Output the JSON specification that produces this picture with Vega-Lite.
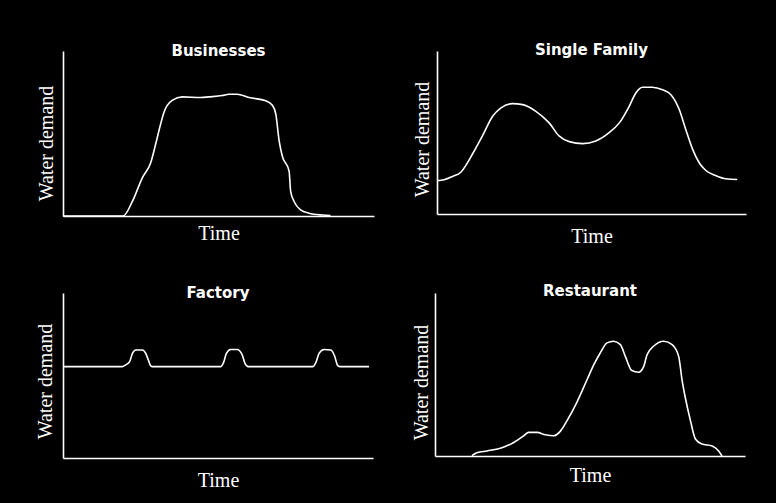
{
  "$schema": "https://vega.github.io/schema/vega-lite/v6.json",
  "background": "black",
  "padding": {"left": 35, "top": 42, "right": 40, "bottom": 30},
  "datasets": {
    "businesses": [
      {"t": 0, "demand": 0}, {"t": 19.3, "demand": 0}, {"t": 22.3, "demand": 8.8}, {"t": 25.5, "demand": 23.1},
      {"t": 28.2, "demand": 32.3}, {"t": 29.8, "demand": 43.6}, {"t": 31.4, "demand": 55.8}, {"t": 32.5, "demand": 63.0},
      {"t": 35.1, "demand": 70.1}, {"t": 38.4, "demand": 72.2}, {"t": 44.3, "demand": 71.8}, {"t": 46.9, "demand": 72.2},
      {"t": 51.2, "demand": 73.0}, {"t": 53.4, "demand": 73.8}, {"t": 56.0, "demand": 73.8}, {"t": 59.8, "demand": 71.8},
      {"t": 65.2, "demand": 69.8}, {"t": 67.3, "demand": 67.1}, {"t": 68.4, "demand": 62.0}, {"t": 69.5, "demand": 45.6},
      {"t": 70.5, "demand": 36.4}, {"t": 72.7, "demand": 27.2}, {"t": 73.2, "demand": 14.9}, {"t": 74.3, "demand": 8.8},
      {"t": 76.4, "demand": 3.7}, {"t": 79.1, "demand": 1.7}, {"t": 83.4, "demand": 0.6}, {"t": 86, "demand": 0.3}
    ],
    "single_family": [
      {"t": 0, "demand": 20.4}, {"t": 2.3, "demand": 21.0}, {"t": 5.0, "demand": 23.0}, {"t": 7.7, "demand": 25.6},
      {"t": 9.3, "demand": 29.7}, {"t": 11.5, "demand": 36.8}, {"t": 14.7, "demand": 47.9}, {"t": 18.0, "demand": 60.0},
      {"t": 20.6, "demand": 65.0}, {"t": 24.4, "demand": 67.7}, {"t": 27.7, "demand": 67.1}, {"t": 32.0, "demand": 63.0},
      {"t": 36.3, "demand": 55.9}, {"t": 39.5, "demand": 47.9}, {"t": 42.8, "demand": 44.4}, {"t": 47.1, "demand": 43.2},
      {"t": 51.4, "demand": 44.8}, {"t": 55.7, "demand": 49.9}, {"t": 59.0, "demand": 55.9}, {"t": 62.2, "demand": 66.1},
      {"t": 64.3, "demand": 74.1}, {"t": 66.5, "demand": 77.8}, {"t": 69.7, "demand": 77.8}, {"t": 73.0, "demand": 76.2},
      {"t": 75.7, "demand": 73.2}, {"t": 78.4, "demand": 64.1}, {"t": 80.5, "demand": 51.9}, {"t": 82.7, "demand": 39.8},
      {"t": 84.9, "demand": 31.3}, {"t": 87.0, "demand": 26.7}, {"t": 90.2, "demand": 23.6}, {"t": 93.5, "demand": 21.6},
      {"t": 97.2, "demand": 21.2}
    ],
    "factory": [
      {"t": 0, "demand": 55.4}, {"t": 19.1, "demand": 55.4}, {"t": 20.2, "demand": 56.4}, {"t": 21.5, "demand": 58.4},
      {"t": 22.4, "demand": 63.4}, {"t": 23.5, "demand": 65.5}, {"t": 25.6, "demand": 65.5}, {"t": 26.7, "demand": 63.4},
      {"t": 27.5, "demand": 59.5}, {"t": 28.3, "demand": 55.8}, {"t": 28.8, "demand": 55.4}, {"t": 50.9, "demand": 55.4},
      {"t": 51.9, "demand": 58.4}, {"t": 52.7, "demand": 63.4}, {"t": 54.1, "demand": 65.8}, {"t": 56.2, "demand": 65.8},
      {"t": 57.8, "demand": 62.5}, {"t": 58.7, "demand": 57.4}, {"t": 59.3, "demand": 55.8}, {"t": 59.7, "demand": 55.4},
      {"t": 80.6, "demand": 55.4}, {"t": 81.7, "demand": 58.4}, {"t": 82.6, "demand": 63.4}, {"t": 84.2, "demand": 65.8},
      {"t": 86.4, "demand": 65.5}, {"t": 87.7, "demand": 61.4}, {"t": 88.5, "demand": 56.4}, {"t": 89.3, "demand": 55.4},
      {"t": 98.7, "demand": 55.4}
    ],
    "restaurant": [
      {"t": 11.9, "demand": 0.2}, {"t": 13.5, "demand": 2.0}, {"t": 16.8, "demand": 3.1}, {"t": 21.1, "demand": 4.8},
      {"t": 25.4, "demand": 8.3}, {"t": 28.6, "demand": 12.4}, {"t": 30.2, "demand": 14.5}, {"t": 32.9, "demand": 14.5},
      {"t": 35.6, "demand": 13.0}, {"t": 38.3, "demand": 12.4}, {"t": 40.4, "demand": 15.1}, {"t": 42.6, "demand": 21.7},
      {"t": 45.8, "demand": 33.1}, {"t": 49.0, "demand": 46.6}, {"t": 51.2, "demand": 55.9}, {"t": 53.3, "demand": 63.2},
      {"t": 55.5, "demand": 69.4}, {"t": 57.6, "demand": 70.4}, {"t": 59.8, "demand": 68.3}, {"t": 61.4, "demand": 61.1},
      {"t": 63.5, "demand": 52.4}, {"t": 65.7, "demand": 51.4}, {"t": 67.3, "demand": 54.8}, {"t": 68.4, "demand": 62.1},
      {"t": 70.5, "demand": 67.3}, {"t": 73.8, "demand": 70.4}, {"t": 76.5, "demand": 68.3}, {"t": 78.6, "demand": 61.1},
      {"t": 79.7, "demand": 46.6}, {"t": 80.7, "demand": 36.2}, {"t": 82.4, "demand": 21.7}, {"t": 84.0, "demand": 10.4},
      {"t": 86.1, "demand": 7.3}, {"t": 89.4, "demand": 6.2}, {"t": 91.5, "demand": 3.1}, {"t": 92.6, "demand": 0}
    ]
  },
  "vconcat": [
    {
      "hconcat": [
        {
          "width": 311, "height": 165,
          "title": {"text": "Businesses", "offset": -7.5},
          "data": {"name": "businesses"},
          "mark": {"type": "line", "interpolate": "monotone"},
          "encoding": {
            "x": {"field": "t", "type": "quantitative", "scale": {"domain": [0, 100], "nice": false}, "axis": {"title": "Time", "titlePadding": 7}},
            "y": {"field": "demand", "type": "quantitative", "scale": {"domain": [0, 100], "nice": false}, "axis": {"title": "Water demand", "titlePadding": 7, "titleY": 92}}
          }
        },
        {
          "width": 309, "height": 163,
          "title": {"text": "Single Family", "offset": -6.5},
          "data": {"name": "single_family"},
          "mark": {"type": "line", "interpolate": "monotone"},
          "encoding": {
            "x": {"field": "t", "type": "quantitative", "scale": {"domain": [0, 100], "nice": false}, "axis": {"title": "Time", "titlePadding": 12}},
            "y": {"field": "demand", "type": "quantitative", "scale": {"domain": [0, 100], "nice": false}, "axis": {"title": "Water demand", "titlePadding": 5, "titleY": 88}}
          }
        }
      ]
    },
    {
      "hconcat": [
        {
          "width": 310, "height": 165,
          "title": {"text": "Factory", "offset": -7.5},
          "data": {"name": "factory"},
          "mark": {"type": "line", "interpolate": "monotone"},
          "encoding": {
            "x": {"field": "t", "type": "quantitative", "scale": {"domain": [0, 100], "nice": false}, "axis": {"title": "Time", "titlePadding": 12}},
            "y": {"field": "demand", "type": "quantitative", "scale": {"domain": [0, 100], "nice": false}, "axis": {"title": "Water demand", "titlePadding": 8, "titleY": 88}}
          }
        },
        {
          "width": 310, "height": 163,
          "title": {"text": "Restaurant", "offset": -5.5},
          "data": {"name": "restaurant"},
          "mark": {"type": "line", "interpolate": "monotone"},
          "encoding": {
            "x": {"field": "t", "type": "quantitative", "scale": {"domain": [0, 100], "nice": false}, "axis": {"title": "Time", "titlePadding": 9}},
            "y": {"field": "demand", "type": "quantitative", "scale": {"domain": [0, 100], "nice": false}, "axis": {"title": "Water demand", "titlePadding": 4, "titleY": 89}}
          }
        }
      ]
    }
  ],
  "spacing": 37,
  "config": {
    "concat": {"spacing": 38},
    "view": {"stroke": null},
    "line": {"color": "white", "strokeWidth": 1.6},
    "axis": {
      "grid": false, "ticks": false, "labels": false,
      "domainColor": "white", "domainWidth": 1.6,
      "titleFont": "Liberation Serif", "titleFontSize": 20, "titleFontWeight": "normal", "titleColor": "white"
    },
    "title": {"font": "DejaVu Sans", "fontSize": 15, "fontWeight": "bold", "color": "white", "baseline": "middle", "frame": "group", "anchor": "middle"}
  }
}
